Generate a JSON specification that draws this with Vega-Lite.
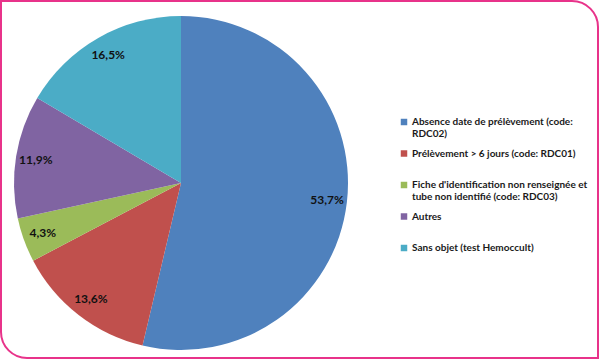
{
  "$schema": "https://vega.github.io/schema/vega-lite/v6.json",
  "width": 597,
  "height": 357,
  "padding": {"left": 1, "top": 1, "right": 2, "bottom": 4},
  "autosize": {"type": "none"},
  "background": "white",
  "config": {"view": {"stroke": null}},
  "layer": [
    {
      "data": {"values": [{"b": 1}]},
      "mark": {"type": "rect", "fill": null, "stroke": "#E8338A", "strokeWidth": 2, "cornerRadiusTopRight": 26, "cornerRadiusBottomLeft": 26},
      "encoding": {}
    },
    {
      "data": {"name": "pie"},
      "mark": {"type": "arc", "radius": 167},
      "encoding": {
        "theta": {"field": "value", "type": "quantitative", "stack": true},
        "order": {"field": "ord", "type": "quantitative"},
        "x": {"value": 180},
        "y": {"value": 182},
        "color": {
          "field": "cat", "type": "nominal",
          "scale": {
            "domain": ["Absence date de prélèvement (code:|RDC02)", "Prélèvement > 6 jours (code: RDC01)|", "Fiche d'identification non renseignée et|tube non identifié (code: RDC03)", "Autres|", "Sans objet (test Hemoccult)|"],
            "range": ["#4F81BD", "#C0504D", "#9BBB59", "#8064A2", "#4BACC6"]
          },
          "legend": {
            "title": null,
            "orient": "none",
            "legendX": 398,
            "legendY": 116,
            "symbolType": "square",
            "symbolSize": 42,
            "symbolStrokeWidth": 0,
            "labelFont": "Lato",
            "labelFontWeight": "bold",
            "labelFontSize": 10,
            "labelColor": "#1a1a1a",
            "labelLimit": 300,
            "labelOffset": 3,
            "rowPadding": 9.5,
            "labelExpr": "split(datum.label, '|')"
          }
        }
      }
    },
    {
      "data": {"name": "pie"},
      "mark": {"type": "text", "radius": 147, "font": "Lato", "fontWeight": "bold", "fontSize": 12, "color": "#111111"},
      "encoding": {
        "theta": {"field": "value", "type": "quantitative", "stack": true},
        "order": {"field": "ord", "type": "quantitative"},
        "x": {"value": 180},
        "y": {"value": 182},
        "text": {"field": "label", "type": "nominal"}
      }
    }
  ],
  "datasets": {
    "pie": [
      {"cat": "Absence date de prélèvement (code:|RDC02)", "value": 53.7, "label": "53,7%", "ord": 1},
      {"cat": "Prélèvement > 6 jours (code: RDC01)|", "value": 13.6, "label": "13,6%", "ord": 2},
      {"cat": "Fiche d'identification non renseignée et|tube non identifié (code: RDC03)", "value": 4.3, "label": "4,3%", "ord": 3},
      {"cat": "Autres|", "value": 11.9, "label": "11,9%", "ord": 4},
      {"cat": "Sans objet (test Hemoccult)|", "value": 16.5, "label": "16,5%", "ord": 5}
    ]
  }
}
